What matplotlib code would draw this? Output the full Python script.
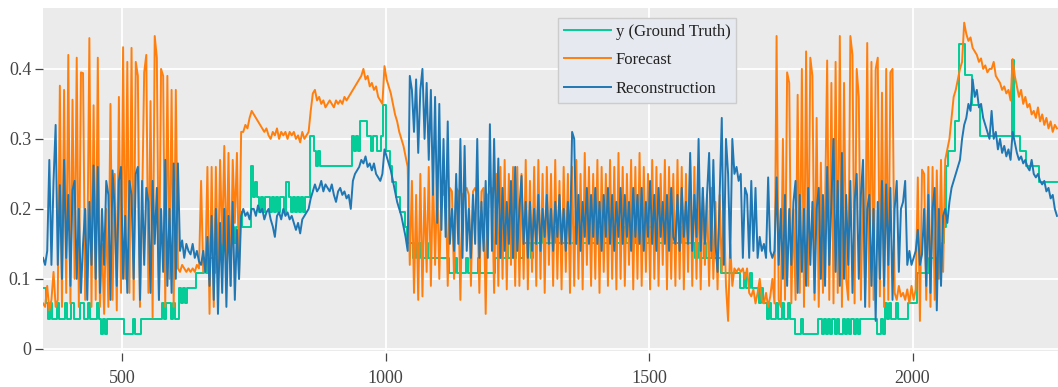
import numpy as np
import matplotlib
matplotlib.use("Agg")
import matplotlib.pyplot as plt

# values, one sample every 4 steps starting at step 350
x_start = 350
x_step = 4

ground_truth = [
    # 350
    0.087, 0.087, 0.065, 0.043, 0.065, 0.043, 0.043, 0.065, 0.043, 0.043, 0.043, 0.065, 0.043,
    0.043, 0.065, 0.043, 0.043, 0.043, 0.065, 0.065, 0.043, 0.043, 0.065, 0.043, 0.043,
    # 450
    0.043, 0.065, 0.043, 0.022, 0.043, 0.022, 0.043, 0.043, 0.043, 0.043, 0.043, 0.043, 0.043,
    0.043, 0.022, 0.022, 0.022, 0.022, 0.043, 0.022, 0.022, 0.022, 0.043, 0.043, 0.043,
    # 550
    0.043, 0.043, 0.043, 0.043, 0.043, 0.043, 0.043, 0.065, 0.043, 0.065, 0.065, 0.043, 0.065,
    0.043, 0.043, 0.087, 0.065, 0.087, 0.065, 0.087, 0.087, 0.087, 0.087, 0.109, 0.109,
    # 650
    0.109, 0.109, 0.13, 0.109, 0.13, 0.13, 0.109, 0.13, 0.13, 0.152, 0.13, 0.152, 0.152,
    0.152, 0.174, 0.174, 0.152, 0.174, 0.174, 0.196, 0.174, 0.174, 0.174, 0.174, 0.261,
    # 750
    0.217, 0.239, 0.217, 0.196, 0.217, 0.196, 0.217, 0.217, 0.196, 0.217, 0.196, 0.217, 0.196,
    0.217, 0.217, 0.196, 0.239, 0.217, 0.196, 0.217, 0.196, 0.217, 0.196, 0.217, 0.196,
    # 850
    0.217, 0.217, 0.304, 0.304, 0.283, 0.261, 0.283, 0.261, 0.261, 0.261, 0.261, 0.261, 0.261,
    0.261, 0.261, 0.261, 0.261, 0.261, 0.261, 0.261, 0.261, 0.261, 0.304, 0.283, 0.304,
    # 950
    0.283, 0.326, 0.326, 0.326, 0.304, 0.304, 0.283, 0.304, 0.304, 0.283, 0.283, 0.304, 0.348,
    0.283, 0.283, 0.261, 0.239, 0.239, 0.217, 0.217, 0.196, 0.196, 0.174, 0.152, 0.152,
    # 1050
    0.152, 0.13, 0.152, 0.13, 0.152, 0.13, 0.13, 0.152, 0.13, 0.13, 0.13, 0.13, 0.13,
    0.13, 0.13, 0.13, 0.13, 0.13, 0.109, 0.109, 0.109, 0.13, 0.109, 0.109, 0.109,
    # 1150
    0.109, 0.13, 0.109, 0.109, 0.109, 0.109, 0.109, 0.13, 0.109, 0.109, 0.109, 0.109, 0.109,
    0.109, 0.109, 0.13, 0.13, 0.152, 0.13, 0.13, 0.152, 0.13, 0.13, 0.152, 0.13,
    # 1250
    0.152, 0.152, 0.13, 0.152, 0.152, 0.152, 0.152, 0.13, 0.152, 0.152, 0.152, 0.152, 0.174,
    0.152, 0.152, 0.152, 0.152, 0.152, 0.174, 0.152, 0.152, 0.152, 0.152, 0.152, 0.152,
    # 1350
    0.152, 0.152, 0.152, 0.174, 0.152, 0.152, 0.152, 0.152, 0.152, 0.174, 0.152, 0.152, 0.152,
    0.152, 0.174, 0.174, 0.152, 0.152, 0.152, 0.152, 0.152, 0.174, 0.152, 0.152, 0.152,
    # 1450
    0.152, 0.174, 0.152, 0.152, 0.152, 0.152, 0.152, 0.174, 0.152, 0.152, 0.152, 0.152, 0.152,
    0.174, 0.174, 0.152, 0.152, 0.152, 0.152, 0.152, 0.174, 0.152, 0.152, 0.152, 0.152,
    # 1550
    0.152, 0.152, 0.152, 0.174, 0.152, 0.152, 0.152, 0.152, 0.152, 0.152, 0.13, 0.152, 0.13,
    0.13, 0.152, 0.13, 0.13, 0.13, 0.152, 0.13, 0.13, 0.13, 0.109, 0.109, 0.109,
    # 1650
    0.109, 0.109, 0.109, 0.109, 0.109, 0.109, 0.087, 0.087, 0.109, 0.087, 0.087, 0.109, 0.087,
    0.087, 0.087, 0.065, 0.087, 0.065, 0.065, 0.043, 0.065, 0.043, 0.043, 0.065, 0.043,
    # 1750
    0.043, 0.065, 0.043, 0.043, 0.065, 0.043, 0.043, 0.022, 0.022, 0.022, 0.043, 0.022, 0.022,
    0.022, 0.022, 0.022, 0.022, 0.022, 0.043, 0.043, 0.022, 0.043, 0.022, 0.043, 0.022,
    # 1850
    0.043, 0.022, 0.043, 0.022, 0.022, 0.043, 0.022, 0.043, 0.022, 0.043, 0.022, 0.043, 0.022,
    0.043, 0.043, 0.043, 0.043, 0.043, 0.043, 0.043, 0.043, 0.022, 0.022, 0.043, 0.022,
    # 1950
    0.065, 0.043, 0.065, 0.043, 0.043, 0.065, 0.043, 0.043, 0.043, 0.043, 0.043, 0.065, 0.065,
    0.065, 0.065, 0.109, 0.109, 0.109, 0.109, 0.109, 0.109, 0.13, 0.13, 0.13, 0.13,
    # 2050
    0.13, 0.13, 0.152, 0.174, 0.261, 0.283, 0.283, 0.283, 0.326, 0.326, 0.435, 0.435, 0.435,
    0.391, 0.391, 0.391, 0.348, 0.348, 0.348, 0.348, 0.304, 0.304, 0.304, 0.304, 0.304,
    # 2150
    0.304, 0.304, 0.304, 0.304, 0.304, 0.304, 0.304, 0.304, 0.304, 0.304, 0.413, 0.304, 0.304,
    0.304, 0.283, 0.283, 0.283, 0.261, 0.261, 0.261, 0.261, 0.261, 0.261, 0.239, 0.239,
    # 2250
    0.239, 0.239, 0.239, 0.239, 0.239, 0.239, 0.239,
]

forecast = [
    # 350
    0.065, 0.06, 0.09, 0.055, 0.07, 0.11, 0.06, 0.07, 0.376, 0.06, 0.37, 0.08, 0.42,
    0.065, 0.356, 0.1, 0.416, 0.06, 0.395, 0.394, 0.07, 0.12, 0.444, 0.06, 0.348,
    # 450
    0.07, 0.416, 0.06, 0.15, 0.05, 0.2, 0.06, 0.35, 0.07, 0.25, 0.055, 0.36, 0.08,
    0.431, 0.1, 0.41, 0.08, 0.43, 0.07, 0.41, 0.39, 0.06, 0.2, 0.395, 0.42,
    # 550
    0.08, 0.354, 0.045, 0.447, 0.416, 0.07, 0.40, 0.39, 0.06, 0.39, 0.1, 0.37, 0.06,
    0.37, 0.115, 0.11, 0.12, 0.115, 0.11, 0.115, 0.11, 0.115, 0.11, 0.12, 0.115,
    # 650
    0.24, 0.11, 0.115, 0.26, 0.05, 0.26, 0.06, 0.26, 0.1, 0.27, 0.15, 0.29, 0.12,
    0.28, 0.09, 0.27, 0.18, 0.28, 0.1, 0.31, 0.31, 0.32, 0.315, 0.33, 0.34,
    # 750
    0.335, 0.33, 0.325, 0.32, 0.315, 0.31, 0.315, 0.305, 0.3, 0.31, 0.305, 0.315, 0.3,
    0.31, 0.305, 0.31, 0.3, 0.31, 0.305, 0.31, 0.3, 0.305, 0.295, 0.31, 0.3,
    # 850
    0.305, 0.31, 0.34, 0.365, 0.37, 0.355, 0.36, 0.35, 0.355, 0.345, 0.35, 0.355, 0.35,
    0.345, 0.355, 0.35, 0.355, 0.35, 0.36, 0.355, 0.36, 0.365, 0.37, 0.375, 0.38,
    # 950
    0.385, 0.39, 0.40, 0.385, 0.39, 0.375, 0.38, 0.37, 0.375, 0.36, 0.355, 0.35, 0.404,
    0.385, 0.375, 0.365, 0.35, 0.335, 0.325, 0.31, 0.3, 0.29, 0.275, 0.26, 0.12,
    # 1050
    0.24, 0.08, 0.22, 0.07, 0.25, 0.075, 0.23, 0.11, 0.26, 0.09, 0.25, 0.12, 0.24,
    0.1, 0.23, 0.22, 0.24, 0.09, 0.23, 0.225, 0.1, 0.23, 0.225, 0.07, 0.22,
    # 1150
    0.225, 0.23, 0.22, 0.09, 0.225, 0.23, 0.22, 0.08, 0.225, 0.23, 0.05, 0.22, 0.225,
    0.23, 0.08, 0.25, 0.09, 0.26, 0.1, 0.27, 0.085, 0.25, 0.12, 0.26, 0.09,
    # 1250
    0.26, 0.09, 0.25, 0.1, 0.27, 0.085, 0.24, 0.11, 0.26, 0.09, 0.27, 0.1, 0.25,
    0.08, 0.26, 0.12, 0.25, 0.09, 0.27, 0.1, 0.24, 0.085, 0.26, 0.11, 0.25,
    # 1350
    0.08, 0.26, 0.09, 0.27, 0.1, 0.25, 0.085, 0.28, 0.12, 0.26, 0.09, 0.25, 0.1,
    0.27, 0.08, 0.26, 0.11, 0.25, 0.09, 0.27, 0.1, 0.26, 0.085, 0.28, 0.1,
    # 1450
    0.26, 0.09, 0.25, 0.12, 0.27, 0.085, 0.26, 0.1, 0.28, 0.09, 0.26, 0.11, 0.25,
    0.085, 0.27, 0.1, 0.26, 0.09, 0.25, 0.12, 0.27, 0.085, 0.26, 0.1, 0.25,
    # 1550
    0.09, 0.27, 0.1, 0.26, 0.085, 0.25, 0.11, 0.27, 0.09, 0.26, 0.1, 0.24, 0.085,
    0.23, 0.12, 0.22, 0.09, 0.23, 0.1, 0.21, 0.085, 0.22, 0.11, 0.2, 0.09,
    # 1650
    0.04, 0.15, 0.09, 0.115, 0.11, 0.115, 0.11, 0.115, 0.1, 0.115, 0.08, 0.075, 0.085,
    0.065, 0.08, 0.1, 0.07, 0.065, 0.08, 0.06, 0.075, 0.1, 0.065, 0.447, 0.07,
    # 1750
    0.06, 0.30, 0.07, 0.395, 0.38, 0.065, 0.2, 0.07, 0.363, 0.08, 0.40, 0.06, 0.425,
    0.09, 0.416, 0.39, 0.07, 0.33, 0.06, 0.266, 0.08, 0.2, 0.412, 0.07, 0.38,
    # 1850
    0.065, 0.41, 0.08, 0.447, 0.06, 0.38, 0.1, 0.07, 0.447, 0.42, 0.065, 0.40, 0.36,
    0.07, 0.25, 0.085, 0.437, 0.06, 0.41, 0.07, 0.40, 0.416, 0.075, 0.366, 0.06,
    # 1950
    0.40, 0.07, 0.395, 0.40, 0.08, 0.07, 0.09, 0.075, 0.08, 0.07, 0.085, 0.065, 0.09,
    0.07, 0.085, 0.245, 0.04, 0.256, 0.25, 0.07, 0.26, 0.06, 0.26, 0.07, 0.255,
    # 2050
    0.1, 0.27, 0.11, 0.27, 0.285, 0.30, 0.33, 0.36, 0.37, 0.385, 0.40, 0.41, 0.466,
    0.45, 0.44, 0.445, 0.43, 0.425, 0.42, 0.41, 0.415, 0.40, 0.405, 0.395, 0.40,
    # 2150
    0.40, 0.41, 0.39, 0.385, 0.38, 0.37, 0.375, 0.365, 0.37, 0.355, 0.414, 0.39, 0.375,
    0.36, 0.37, 0.35, 0.36, 0.345, 0.35, 0.335, 0.34, 0.33, 0.345, 0.325, 0.335,
    # 2250
    0.32, 0.33, 0.315, 0.325, 0.31, 0.32, 0.315,
]

reconstruction = [
    # 350
    0.13, 0.12, 0.14, 0.27, 0.12, 0.24, 0.32, 0.12, 0.234, 0.1, 0.27, 0.13, 0.22,
    0.09, 0.227, 0.24, 0.1, 0.2, 0.08, 0.15, 0.2, 0.07, 0.21, 0.12, 0.262,
    # 450
    0.1, 0.26, 0.08, 0.2, 0.12, 0.24, 0.22, 0.07, 0.255, 0.2, 0.09, 0.24, 0.26,
    0.1, 0.19, 0.08, 0.24, 0.22, 0.1, 0.25, 0.26, 0.07, 0.24, 0.12, 0.23,
    # 550
    0.21, 0.08, 0.24, 0.15, 0.23, 0.07, 0.2, 0.11, 0.27, 0.09, 0.2, 0.08, 0.265,
    0.1, 0.265, 0.14, 0.155, 0.13, 0.15, 0.14, 0.135, 0.15, 0.13, 0.14, 0.125,
    # 650
    0.12, 0.14, 0.11, 0.16, 0.09, 0.19, 0.07, 0.2, 0.05, 0.18, 0.08, 0.2, 0.06,
    0.19, 0.09, 0.21, 0.07, 0.17, 0.1, 0.19, 0.2, 0.19, 0.195, 0.185, 0.2,
    # 750
    0.2, 0.19, 0.205, 0.195, 0.2, 0.185, 0.195, 0.2, 0.185, 0.175, 0.16, 0.19, 0.195,
    0.185, 0.2, 0.19, 0.195, 0.185, 0.19, 0.18, 0.17, 0.18, 0.165, 0.185, 0.19,
    # 850
    0.195, 0.2, 0.215, 0.225, 0.235, 0.225, 0.23, 0.24, 0.225, 0.235, 0.23, 0.225, 0.235,
    0.22, 0.21, 0.225, 0.23, 0.22, 0.225, 0.215, 0.22, 0.2, 0.24, 0.25, 0.255,
    # 950
    0.26, 0.27, 0.265, 0.275, 0.26, 0.265, 0.255, 0.265, 0.25, 0.245, 0.24, 0.25, 0.285,
    0.275, 0.265, 0.255, 0.24, 0.225, 0.21, 0.2, 0.19, 0.175, 0.16, 0.14, 0.39,
    # 1050
    0.37, 0.31, 0.385, 0.28, 0.37, 0.40, 0.3, 0.38, 0.27, 0.37, 0.22, 0.36, 0.18,
    0.35, 0.17, 0.3, 0.16, 0.325, 0.15, 0.2, 0.14, 0.25, 0.15, 0.3, 0.13,
    # 1150
    0.29, 0.14, 0.2, 0.13, 0.22, 0.15, 0.3, 0.13, 0.21, 0.14, 0.24, 0.13, 0.321,
    0.14, 0.3, 0.15, 0.272, 0.13, 0.23, 0.14, 0.21, 0.15, 0.24, 0.13, 0.26,
    # 1250
    0.14, 0.2, 0.247, 0.15, 0.21, 0.13, 0.21, 0.14, 0.2, 0.15, 0.22, 0.14, 0.2,
    0.16, 0.22, 0.15, 0.2, 0.14, 0.21, 0.16, 0.22, 0.15, 0.2, 0.14, 0.21,
    # 1350
    0.15, 0.31, 0.3, 0.15, 0.22, 0.14, 0.21, 0.16, 0.23, 0.15, 0.22, 0.16, 0.23,
    0.15, 0.21, 0.14, 0.22, 0.16, 0.23, 0.15, 0.22, 0.14, 0.21, 0.16, 0.23,
    # 1450
    0.15, 0.22, 0.16, 0.21, 0.14, 0.23, 0.16, 0.22, 0.15, 0.23, 0.14, 0.21, 0.16,
    0.24, 0.15, 0.22, 0.14, 0.23, 0.16, 0.21, 0.15, 0.22, 0.14, 0.23, 0.16,
    # 1550
    0.15, 0.22, 0.14, 0.23, 0.16, 0.21, 0.15, 0.28, 0.14, 0.22, 0.16, 0.3, 0.14,
    0.23, 0.15, 0.22, 0.28, 0.14, 0.27, 0.15, 0.11, 0.22, 0.33, 0.12, 0.3,
    # 1650
    0.25, 0.13, 0.3, 0.25, 0.26, 0.24, 0.25, 0.13, 0.23, 0.22, 0.13, 0.24, 0.14,
    0.23, 0.13, 0.16, 0.14, 0.15, 0.13, 0.245, 0.14, 0.13, 0.14, 0.245, 0.12,
    # 1750
    0.2, 0.1, 0.22, 0.09, 0.2, 0.12, 0.21, 0.24, 0.08, 0.22, 0.11, 0.2, 0.09,
    0.23, 0.12, 0.21, 0.08, 0.2, 0.23, 0.1, 0.22, 0.09, 0.26, 0.12, 0.21,
    # 1850
    0.3, 0.11, 0.24, 0.09, 0.28, 0.1, 0.22, 0.12, 0.24, 0.08, 0.21, 0.25, 0.1,
    0.22, 0.27, 0.06, 0.2, 0.22, 0.09, 0.2, 0.04, 0.21, 0.1, 0.24, 0.09,
    # 1950
    0.235, 0.12, 0.23, 0.07, 0.2, 0.24, 0.11, 0.2, 0.21, 0.24, 0.12, 0.14, 0.12,
    0.13, 0.14, 0.17, 0.12, 0.135, 0.2, 0.09, 0.22, 0.08, 0.2, 0.23, 0.055,
    # 2050
    0.2, 0.09, 0.19, 0.2, 0.18, 0.21, 0.23, 0.24, 0.25, 0.26, 0.27, 0.3, 0.32,
    0.33, 0.35, 0.34, 0.385, 0.36, 0.37, 0.345, 0.35, 0.33, 0.32, 0.31, 0.3,
    # 2150
    0.34, 0.3, 0.31, 0.285, 0.3, 0.28, 0.29, 0.275, 0.285, 0.27, 0.31, 0.295, 0.28,
    0.27, 0.275, 0.265, 0.27, 0.26, 0.255, 0.27, 0.25, 0.245, 0.25, 0.24, 0.235,
    # 2250
    0.24, 0.225, 0.23, 0.215, 0.22, 0.2, 0.19,
]

x_ticks = [500, 1000, 1500, 2000]
y_ticks = [0, 0.1, 0.2, 0.3, 0.4]
y_ticklabels = ["0", "0.1", "0.2", "0.3", "0.4"]

plt.rcParams['font.family'] = ['Liberation Serif', 'DejaVu Serif']

W, H = 1058, 387
fig = plt.figure(figsize=(W / 100, H / 100), dpi=100)
ax = fig.add_axes([43 / W, 1 - 351 / H, 1 - 43 / W, 343 / H])
ax.set_facecolor('#EBEBEB')

x_gt = x_start + x_step * np.arange(len(ground_truth))
x_fc = x_start + x_step * np.arange(len(forecast))
x_rc = x_start + x_step * np.arange(len(reconstruction))

ax.plot(x_gt, ground_truth, color='#00CC96', lw=1.4, drawstyle='steps-mid', label='y (Ground Truth)')
ax.plot(x_fc, forecast, color='#FF7F0E', lw=1.4, label='Forecast')
ax.plot(x_rc, reconstruction, color='#1F77B4', lw=1.4, label='Reconstruction')

ax.set_xlim(350, 2276)
ax.set_ylim(-0.003, 0.487)
ax.set_xticks(x_ticks)
ax.set_yticks(y_ticks)
ax.set_yticklabels(y_ticklabels)
ax.grid(True, color='white', lw=1.3)
ax.set_axisbelow(True)
for s in ax.spines.values():
    s.set_visible(False)
ax.spines['bottom'].set_position(('outward', 1.5))
ax.tick_params(direction='out', length=5.5, width=0.9, color='#444444',
               labelcolor='#444444', labelsize=13)
ax.tick_params(axis='x', pad=6.5)
ax.tick_params(axis='y', pad=3)

leg = ax.legend(loc='upper left', bbox_to_anchor=((558 - 43) / 1015, (351 - 18) / 343),
                fontsize=12, handlelength=2.8, handletextpad=0.3, labelspacing=0.75,
                borderpad=0.35, borderaxespad=0, fancybox=False, framealpha=1)
leg.get_frame().set_facecolor('#E6E9EF')
leg.get_frame().set_edgecolor('#CCCCCC')
leg.get_frame().set_linewidth(1)
for t in leg.get_texts():
    t.set_color('#222222')

fig.savefig('out.png', dpi=100)
